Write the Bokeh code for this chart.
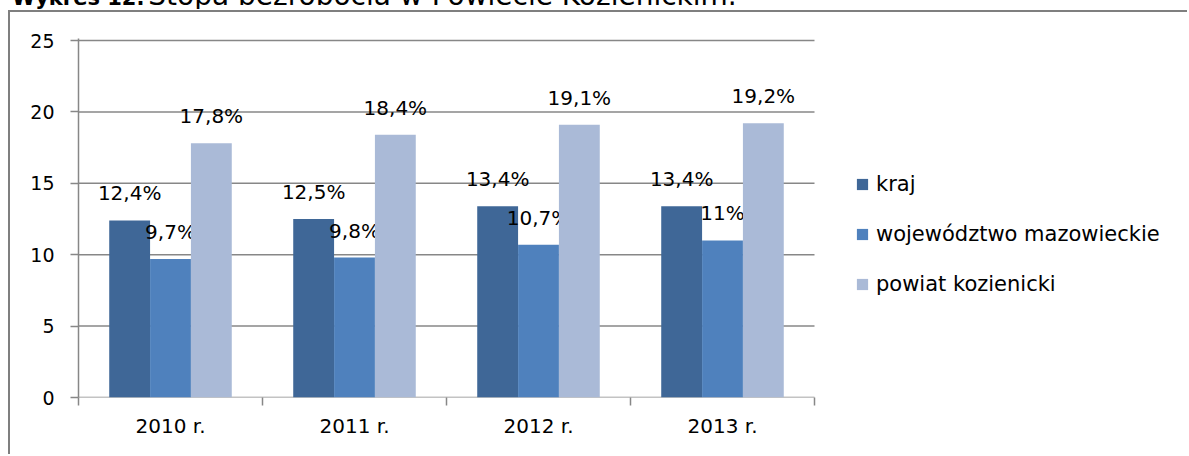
from bokeh.plotting import figure
from bokeh.layouts import column
from bokeh.models import (ColumnDataSource, Range1d, FixedTicker, Legend, LegendItem, Div)
from bokeh.core.properties import value
from bokeh.embed import file_html
from bokeh.resources import INLINE

# ---- data ----
categories = ["2010 r.", "2011 r.", "2012 r.", "2013 r."]
series_names = ["kraj", "województwo mazowieckie", "powiat kozienicki"]
kraj = [12.4, 12.5, 13.4, 13.4]
wojewodztwo = [9.7, 9.8, 10.7, 11.0]
powiat = [17.8, 18.4, 19.1, 19.2]
y_ticks = [0, 5, 10, 15, 20, 25]
title_bold = "Wykres 12."
title_rest = "Stopa bezrobocia w Powiecie Kozienickim."

colors = ["#3F6797", "#4F81BD", "#AABAD7"]
FONT = "DejaVu Sans"
GRID = "#878787"


def fmt(v):
    s = f"{v:.1f}".replace(".", ",")
    if s.endswith(",0"):
        s = s[:-2]
    return s + "%"


n = len(categories)
W, H = 1179, 444
px_per_cat = 184.0
frame_w = W - 68
x_end = frame_w / px_per_cat
y_end = 25 + 2 / 14.28

p = figure(width=W, height=H, output_backend="svg", toolbar_location=None,
           x_range=Range1d(0, x_end), y_range=Range1d(0, y_end),
           min_border_left=68, min_border_right=0, min_border_top=26,
           min_border_bottom=H - 385, margin=(3, 0, 0, 10))
p.styles = {"box-shadow": "-2px -2px 0 0 #7f7f7f"}
p.outline_line_color = None
p.background_fill_color = "white"
p.border_fill_color = "white"

# horizontal gridlines limited to the category area
p.segment(x0=[0] * len(y_ticks), x1=[n] * len(y_ticks), y0=y_ticks, y1=y_ticks,
          line_color=GRID, line_width=1.5)

bar_w = 0.222
offsets = [-bar_w, 0.0, bar_w]
series = [kraj, wojewodztwo, powiat]
items = []
for name, vals, off, col in zip(series_names, series, offsets, colors):
    xs = [i + 0.5 + off for i in range(n)]
    src = ColumnDataSource(dict(x=xs, top=vals, lab=[fmt(v) for v in vals]))
    r = p.vbar(x="x", top="top", bottom=0, width=bar_w, source=src,
               fill_color=col, line_color=None)
    items.append(LegendItem(label=name, renderers=[r]))
    p.text(x="x", y="top", text="lab", source=src, text_align="center",
           text_baseline="middle", y_offset=-27, text_font=value(FONT),
           text_font_size="20px", text_color="black")

# axes
p.xaxis.ticker = FixedTicker(ticks=[i + 0.5 for i in range(n)],
                             minor_ticks=list(range(n + 1)))
p.xaxis.major_label_overrides = {i + 0.5: c for i, c in enumerate(categories)}
p.xaxis.major_tick_out = 0
p.xaxis.major_tick_in = 0
p.xaxis.minor_tick_out = 8
p.xaxis.minor_tick_in = 0
p.xaxis.minor_tick_line_color = GRID
p.xaxis.minor_tick_line_width = 1.5
p.xaxis.axis_line_color = None
p.xaxis.major_label_text_font = FONT
p.xaxis.major_label_text_font_size = "20px"
p.xaxis.major_label_text_color = "black"
p.xaxis.major_label_standoff = 8

p.yaxis.ticker = FixedTicker(ticks=y_ticks, minor_ticks=[])
p.yaxis.major_tick_out = 8
p.yaxis.major_tick_in = 0
p.yaxis.major_tick_line_color = GRID
p.yaxis.major_tick_line_width = 1.5
p.yaxis.axis_line_color = GRID
p.yaxis.axis_line_width = 1.5
p.yaxis.major_label_text_font = FONT
p.yaxis.major_label_text_font_size = "19px"
p.yaxis.major_label_text_color = "black"
p.yaxis.major_label_standoff = 16

p.xgrid.visible = False
p.ygrid.visible = False

legend = Legend(items=items, location=(777, 101), glyph_width=14, glyph_height=14,
                label_height=25, spacing=25, padding=0, label_standoff=7,
                label_text_font=FONT, label_text_font_size="21px",
                label_text_color="black", border_line_color=None,
                background_fill_alpha=0, margin=0)
p.add_layout(legend, "center")

title_html = (
    '<div style="font-family:\'DejaVu Sans\';line-height:27px;white-space:nowrap;'
    'padding-left:12px;color:black;margin:0">'
    f'<span style="font-weight:bold;font-size:21px">{title_bold}</span> '
    f'<span style="font-size:28px">{title_rest}</span></div>'
)
title_div = Div(text=title_html, width=1177, height=27, margin=(-18, 0, 0, 0),
                styles={"overflow": "hidden"})

layout = column(title_div, p, spacing=0)

open("out.html", "w").write(file_html(layout, INLINE))
